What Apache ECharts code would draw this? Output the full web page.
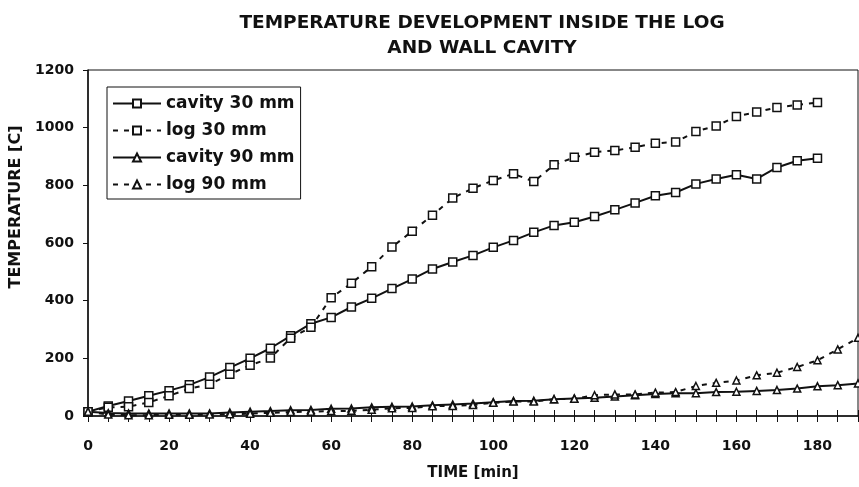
<!DOCTYPE html>
<html>
<head>
<meta charset="utf-8">
<script src="https://cdn.jsdelivr.net/npm/echarts@6/dist/echarts.min.js"></script>
<style>
  html, body { margin: 0; padding: 0; background: #fff; }
  #main { width: 859px; height: 487px; }
</style>
</head>
<body>
<div id="main"></div>
<script>
// time [min]
var time30 = [0, 5, 10, 15, 20, 25, 30, 35, 40, 45, 50, 55, 60, 65, 70, 75, 80, 85, 90,
  95, 100, 105, 110, 115, 120, 125, 130, 135, 140, 145, 150, 155, 160, 165, 170, 175, 180];
var time90 = [0, 5, 10, 15, 20, 25, 30, 35, 40, 45, 50, 55, 60, 65, 70, 75, 80, 85, 90,
  95, 100, 105, 110, 115, 120, 125, 130, 135, 140, 145, 150, 155, 160, 165, 170, 175, 180, 185, 190];

// temperature [C]
var cavity30 = [15, 35, 52, 70, 88, 108, 135, 168, 200, 235, 278, 320, 342, 378, 408, 442, 475, 510, 534,
  557, 585, 609, 637, 661, 672, 692, 715, 739, 764, 775, 805, 822, 837, 822, 862, 885, 894];
var log30 = [15, 30, 32, 47, 70, 95, 110, 145, 176, 201, 270, 308, 410, 460, 518, 586, 641, 696, 756,
  790, 817, 840, 813, 871, 897, 915, 921, 932, 946, 950, 987, 1006, 1039, 1054, 1070, 1079, 1087];
var cavity90 = [15, 10, 9, 9, 9, 9, 9, 12, 15, 17, 20, 21, 25, 26, 30, 32, 33, 37, 40,
  43, 48, 52, 53, 58, 61, 63, 68, 72, 76, 79, 79, 83, 84, 87, 90, 95, 103, 107, 113];
var log90 = [15, 5, 3, 3, 4, 4, 5, 6, 8, 11, 14, 15, 17, 18, 22, 27, 28, 34, 35,
  38, 46, 50, 50, 58, 60, 72, 75, 75, 81, 83, 104, 115, 123, 141, 150, 170, 193, 231, 271];

var seriesNames = ['cavity 30 mm', 'log 30 mm', 'cavity 90 mm', 'log 90 mm'];

function pairs(xs, ys) {
    return ys.map(function (v, i) { return [xs[i], v]; });
}

var ink = '#111';
var font = 'DejaVu Sans';

function makeSeries(name, xs, ys, symbol, size, dashed) {
    return {
        name: name,
        type: 'line',
        data: pairs(xs, ys),
        symbol: symbol,
        symbolSize: size,
        showAllSymbol: true,
        itemStyle: { color: '#fff', borderColor: ink, borderWidth: 1.5 },
        lineStyle: { color: ink, width: 2, type: dashed ? [5, 6] : 'solid' },
        emphasis: { disabled: true },
        z: 3
    };
}

var myChart = echarts.init(document.getElementById('main'));

var option = {
    backgroundColor: '#fff',
    animation: false,
    title: {
        text: 'TEMPERATURE DEVELOPMENT INSIDE THE LOG\nAND WALL CAVITY',
        left: 477,
        textAlign: 'center',
        top: 6,
        textStyle: { fontFamily: font, fontWeight: 'bold', fontSize: 18.5, lineHeight: 25, color: ink }
    },
    legend: {
        data: seriesNames,
        orient: 'vertical',
        left: 107,
        top: 87,
        padding: [8, 6, 6, 5],
        itemWidth: 48,
        itemHeight: 10,
        itemGap: 10,
        borderColor: ink,
        borderWidth: 1,
        textStyle: { fontFamily: font, fontWeight: 'bold', fontSize: 17, color: ink }
    },
    grid: {
        left: 88, right: 1, top: 70, bottom: 71,
        outerBoundsMode: 'none',
        containLabel: false,
        show: true, borderColor: ink, borderWidth: 1
    },
    xAxis: [{
        type: 'value',
        min: 0, max: 190, interval: 5,
        name: 'TIME [min]',
        nameLocation: 'middle',
        nameGap: 50,
        nameTextStyle: { fontFamily: font, fontWeight: 'bold', fontSize: 15, color: ink },
        axisLine: { onZero: false, lineStyle: { color: ink, width: 1.5 } },
        axisTick: { show: true, length: 6, lineStyle: { color: ink } },
        axisLabel: {
            margin: 23,
            fontFamily: font, fontWeight: 'bold', fontSize: 14, color: ink,
            formatter: function (v) { return v % 20 === 0 ? String(v) : ''; }
        },
        splitLine: { show: false }
    }, {
        type: 'value',
        position: 'bottom',
        min: 0, max: 190, interval: 5,
        axisLine: { show: false },
        axisTick: { show: true, inside: true, length: 6, lineStyle: { color: ink } },
        axisLabel: { show: false },
        splitLine: { show: false }
    }],
    yAxis: {
        type: 'value',
        min: 0, max: 1200, interval: 200,
        name: 'TEMPERATURE [C]',
        nameLocation: 'middle',
        nameRotate: 90,
        nameGap: 64,
        nameTextStyle: {
            fontFamily: font, fontWeight: 'bold', fontSize: 16, color: ink,
            padding: [0, 0, 0, 72]
        },
        axisLine: { show: true, lineStyle: { color: ink, width: 1.5 } },
        axisTick: { show: true, length: 5, lineStyle: { color: ink } },
        axisLabel: {
            margin: 14, fontFamily: font, fontWeight: 'bold', fontSize: 14, color: ink,
            formatter: function (v) { return String(v); }
        },
        splitLine: { show: false }
    },
    series: [
        makeSeries(seriesNames[0], time30, cavity30, 'rect', 8, false),
        makeSeries(seriesNames[1], time30, log30, 'rect', 8, true),
        makeSeries(seriesNames[2], time90, cavity90, 'triangle', 7, false),
        makeSeries(seriesNames[3], time90, log90, 'triangle', 7, true)
    ]
};

myChart.setOption(option);
</script>
</body>
</html>
